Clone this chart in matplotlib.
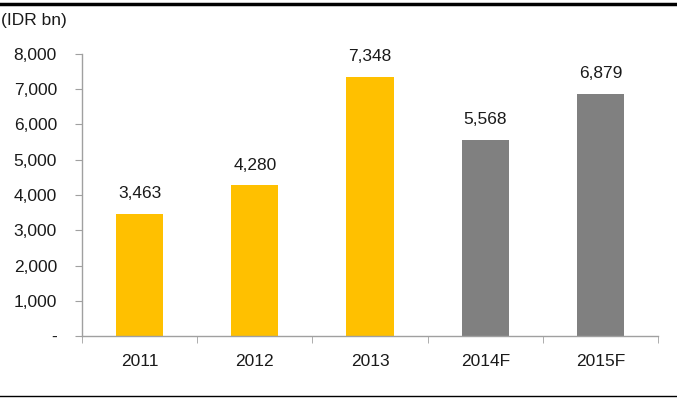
import matplotlib
matplotlib.use("Agg")
import matplotlib.pyplot as plt
from matplotlib.lines import Line2D

categories = ["2011", "2012", "2013", "2014F", "2015F"]
values = [3463, 4280, 7348, 5568, 6879]
colors = ["#FFC000", "#FFC000", "#FFC000", "#808080", "#808080"]
yticks = [0, 1000, 2000, 3000, 4000, 5000, 6000, 7000, 8000]
ytick_labels = ["-", "1,000", "2,000", "3,000", "4,000", "5,000", "6,000", "7,000", "8,000"]

plt.rcParams['font.family'] = ['Liberation Sans', 'DejaVu Sans']
FS = 12.5

fig = plt.figure(figsize=(6.77, 4.04), dpi=100)
ax = fig.add_axes([82/677, 68/404, 576/677, 282/404])

x = list(range(len(categories)))
ax.bar(x, values, width=0.41, color=colors, zorder=2)
for xi, v in zip(x, values):
    ax.annotate(f"{v:,}", (xi, v), xytext=(0, 9), textcoords="offset points",
                ha="center", va="bottom", fontsize=FS, color="#1a1a1a")

ax.set_xlim(-0.5, len(categories) - 0.5)
ax.set_ylim(0, 8000)
ax.set_yticks(yticks)
ax.set_yticklabels(ytick_labels, fontsize=FS, color="#1a1a1a")
ax.set_xticks(x)
ax.set_xticklabels(categories, fontsize=FS, color="#1a1a1a")
ax.tick_params(axis="x", length=0, pad=13)
ax.set_xticks([i - 0.5 for i in range(len(categories) + 1)], minor=True)
ax.tick_params(axis="x", which="minor", length=5, color="#A0A0A0", direction="out")
ax.tick_params(axis="y", length=5, color="#A0A0A0", direction="out", pad=13)

for s in ["top", "right"]:
    ax.spines[s].set_visible(False)
for s in ["left", "bottom"]:
    ax.spines[s].set_color("#A0A0A0")
    ax.spines[s].set_linewidth(1.0)

fig.text(1/677, 1 - 20/404, "(IDR bn)", fontsize=FS, va="center", ha="left", color="#1a1a1a")
fig.add_artist(Line2D([0, 1], [1 - 4/404, 1 - 4/404], color="black", linewidth=2.5, transform=fig.transFigure))
fig.add_artist(Line2D([0, 1], [1 - 396/404, 1 - 396/404], color="black", linewidth=1.0, transform=fig.transFigure))

fig.savefig("out.png", dpi=100)
